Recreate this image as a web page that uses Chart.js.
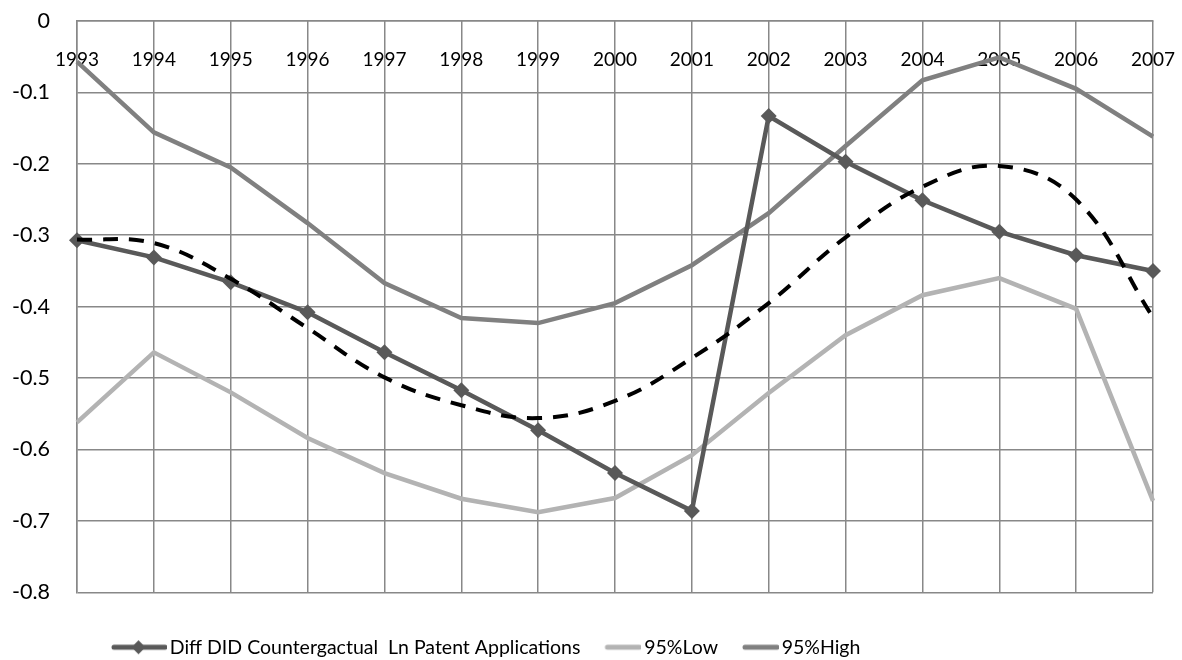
<!DOCTYPE html>
<html lang="en">
<head>
    <meta charset="UTF-8">
    <title>Diff DID Counterfactual</title>
    <script src="https://cdn.jsdelivr.net/npm/chart.js@4.4.1/dist/chart.umd.min.js"></script>
    <style>
        html, body { margin: 0; padding: 0; background: #fff; }
        #wrap { width: 1182px; height: 660px; }
    </style>
</head>
<body>
    <div id="wrap"><canvas id="myChart"></canvas></div>

    <script>
        // Data block
        const years = ['1993', '1994', '1995', '1996', '1997', '1998', '1999', '2000',
                       '2001', '2002', '2003', '2004', '2005', '2006', '2007'];
        const diffDid = [-0.307, -0.331, -0.366, -0.408, -0.464, -0.517, -0.573, -0.633,
                         -0.686, -0.133, -0.197, -0.251, -0.295, -0.328, -0.350];
        const low95 = [-0.562, -0.464, -0.520, -0.584, -0.633, -0.669, -0.688, -0.668,
                       -0.608, -0.521, -0.440, -0.384, -0.360, -0.403, -0.672];
        const high95 = [-0.057, -0.156, -0.205, -0.283, -0.367, -0.416, -0.423, -0.395,
                        -0.342, -0.269, -0.175, -0.083, -0.051, -0.095, -0.162];
        // polynomial trendline of the diff series (dashed, not in legend)
        const trend = [-0.306, -0.311, -0.361, -0.430, -0.499, -0.538, -0.556, -0.532,
                       -0.472, -0.395, -0.303, -0.232, -0.203, -0.250, -0.415];

        const FONT = 'Lato';

        // legend symbols: little canvases (line, or line with a diamond)
        function legendSymbol(color, lineLen, diamond) {
            const c = document.createElement('canvas');
            c.width = 62; c.height = 20;
            const g = c.getContext('2d');
            g.strokeStyle = color;
            g.lineWidth = 5;
            g.lineCap = 'round';
            g.beginPath();
            g.moveTo(62 - lineLen + 2, 10);
            g.lineTo(60, 10);
            g.stroke();
            if (diamond) {
                const cx = 62 - lineLen / 2 - 1;
                g.fillStyle = color;
                g.beginPath();
                g.moveTo(cx, 3); g.lineTo(cx + 7, 10); g.lineTo(cx, 17); g.lineTo(cx - 7, 10);
                g.closePath();
                g.fill();
            }
            return c;
        }
        const symbols = [
            legendSymbol('#595959', 55, true),
            legendSymbol('#b3b3b3', 36, false),
            legendSymbol('#808080', 36, false)
        ];

        // legend sits left of centre in the original, move it over
        const legendShift = {
            id: 'legendShift',
            afterLayout(chart) {
                if (chart.legend) {
                    const w = chart.legend.width;
                    chart.legend.left = 106;
                    chart.legend.right = 106 + w;
                }
            }
        };

        // no label overflow padding, plot area comes from layout padding only
        const noPad = s => {
            s.paddingLeft = 0; s.paddingRight = 0;
            s.paddingTop = 0; s.paddingBottom = 0;
        };

        // Setup Block
        const data = {
            labels: years,
            datasets: [
                {
                    label: 'trend',
                    data: trend,
                    borderColor: '#000',
                    borderWidth: 4,
                    borderDash: [15, 11],
                    pointRadius: 0,
                    tension: 0.4,
                    order: 0
                },
                {
                    label: 'Diff DID Countergactual  Ln Patent Applications',
                    data: diffDid,
                    borderColor: '#595959',
                    backgroundColor: '#595959',
                    borderWidth: 4.5,
                    pointStyle: 'rectRot',
                    pointRadius: 8,
                    pointBorderWidth: 0,
                    tension: 0,
                    order: 1
                },
                {
                    label: '95%Low',
                    data: low95,
                    borderColor: '#b3b3b3',
                    borderWidth: 4.5,
                    pointRadius: 0,
                    tension: 0,
                    order: 2
                },
                {
                    label: '95%High',
                    data: high95,
                    borderColor: '#808080',
                    borderWidth: 4.5,
                    pointRadius: 0,
                    tension: 0,
                    order: 3
                }
            ]
        };

        // Config Block
        const config = {
            type: 'line',
            data,
            plugins: [legendShift],
            options: {
                responsive: true,
                maintainAspectRatio: false,
                animation: false,
                layout: { padding: { top: 21, right: 29, left: 0, bottom: -7 } },
                scales: {
                    x: {
                        type: 'category',
                        position: { y: 0 },
                        offset: false,
                        afterFit: noPad,
                        grid: { color: '#888', lineWidth: 1.5, drawTicks: false },
                        border: { color: '#888', width: 1.5 },
                        ticks: {
                            color: '#000',
                            font: { family: FONT, size: 19 },
                            padding: 27,
                            maxRotation: 0,
                            autoSkip: false
                        }
                    },
                    y: {
                        min: -0.8,
                        max: 0,
                        afterFit: s => { noPad(s); s.width = 77; },
                        grid: { color: '#888', lineWidth: 1.5, drawTicks: false },
                        border: { color: '#888', width: 1.5 },
                        ticks: {
                            stepSize: 0.1,
                            color: '#000',
                            font: { family: FONT, size: 21.5 },
                            padding: 27
                        }
                    }
                },
                plugins: {
                    legend: {
                        position: 'bottom',
                        align: 'start',
                        title: { display: true, text: '', padding: { top: 0, bottom: 38 }, font: { size: 1 } },
                        labels: {
                            usePointStyle: true,
                            pointStyleWidth: 48,
                            padding: 6,
                            color: '#000',
                            font: { family: FONT, size: 19.5 },
                            filter: item => item.datasetIndex !== 0,
                            generateLabels: chart => chart.data.datasets.map((ds, i) => ({
                                text: ds.label,
                                datasetIndex: i,
                                pointStyle: i > 0 ? symbols[i - 1] : 'line',
                                fillStyle: ds.borderColor,
                                strokeStyle: ds.borderColor,
                                lineWidth: 0,
                                hidden: false,
                                fontColor: '#000'
                            }))
                        }
                    },
                    tooltip: { enabled: false }
                }
            }
        };

        // Render block
        const myChart = new Chart(document.getElementById('myChart'), config);
    </script>
</body>
</html>
